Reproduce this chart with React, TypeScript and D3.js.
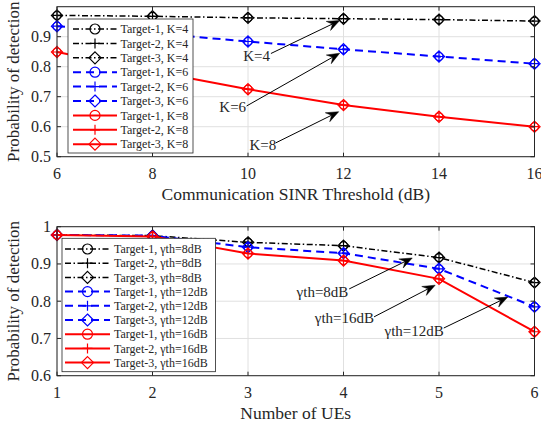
import React from "react";
import * as d3 from "d3";

// ---------- Data ----------
const sinrThresholds = [6, 8, 10, 12, 14, 16];
const pdK4 = [0.971, 0.968, 0.963, 0.96, 0.957, 0.952];
const pdK6 = [0.935, 0.912, 0.884, 0.858, 0.834, 0.81];
const pdK8 = [0.849, 0.785, 0.725, 0.672, 0.633, 0.6];

const numUEs = [1, 2, 3, 4, 5, 6];
const pdG8 = [0.978, 0.976, 0.958, 0.949, 0.917, 0.85];
const pdG12 = [0.978, 0.976, 0.945, 0.929, 0.887, 0.785];
const pdG16 = [0.978, 0.974, 0.928, 0.909, 0.86, 0.718];

const topYTicks = [0.5, 0.6, 0.7, 0.8, 0.9];
const botYTicks = [0.6, 0.7, 0.8, 0.9, 1];

const topLegend = [
  "Target-1, K=4", "Target-2, K=4", "Target-3, K=4",
  "Target-1, K=6", "Target-2, K=6", "Target-3, K=6",
  "Target-1, K=8", "Target-2, K=8", "Target-3, K=8",
];
const botLegend = [
  "Target-1, γth=8dB", "Target-2, γth=8dB", "Target-3, γth=8dB",
  "Target-1, γth=12dB", "Target-2, γth=12dB", "Target-3, γth=12dB",
  "Target-1, γth=16dB", "Target-2, γth=16dB", "Target-3, γth=16dB",
];

// annotations: label, text pos (data), arrow start (data), arrow end (data)
const topNotes = [
  { label: "K=4", tx: 10.18, ty: 0.835, x1: 10.48, y1: 0.844, x2: 11.92, y2: 0.954 },
  { label: "K=6", tx: 9.68, ty: 0.665, x1: 9.97, y1: 0.669, x2: 11.92, y2: 0.845 },
  { label: "K=8", tx: 10.31, ty: 0.539, x1: 10.58, y1: 0.546, x2: 11.9, y2: 0.65 },
];
const botNotes = [
  { label: "γth=8dB", tx: 3.78, ty: 0.8255, x1: 4.06, y1: 0.833, x2: 4.72, y2: 0.916 },
  { label: "γth=16dB", tx: 4.01, ty: 0.755, x1: 4.32, y1: 0.758, x2: 4.96, y2: 0.843 },
  { label: "γth=12dB", tx: 4.74, ty: 0.72, x1: 5.05, y1: 0.728, x2: 5.72, y2: 0.811 },
];

// ---------- Styles ----------
const FONT = "'Liberation Serif', 'Times New Roman', 'DejaVu Serif', serif";
const TXT = "#262626";
const GRID = "#e0e0e0";
const seriesStyles = [
  { color: "#000000", dash: "6,2.5,1.5,2.5", width: 1.5 },
  { color: "#0000ff", dash: "8,5", width: 2 },
  { color: "#ff0000", dash: null as string | null, width: 2 },
];

function Marker({ x, y, color }: { x: number; y: number; color: string }) {
  const r = 4;
  const p = 4.6;
  const dd = 5.6;
  return (
    <g stroke={color} strokeWidth={1.2} fill="none">
      <circle cx={x} cy={y} r={r} />
      <path d={`M${x - p},${y}H${x + p}M${x},${y - p}V${y + p}`} />
      <path d={`M${x},${y - dd}L${x + dd},${y}L${x},${y + dd}L${x - dd},${y}Z`} />
    </g>
  );
}

function LegendMarker({ x, y, color, kind }: { x: number; y: number; color: string; kind: number }) {
  if (kind === 0) return <circle cx={x} cy={y} r={5} stroke={color} strokeWidth={1.2} fill="none" />;
  if (kind === 1)
    return <path d={`M${x - 5},${y}H${x + 5}M${x},${y - 5}V${y + 5}`} stroke={color} strokeWidth={1.2} />;
  return (
    <path
      d={`M${x},${y - 6}L${x + 6},${y}L${x},${y + 6}L${x - 6},${y}Z`}
      stroke={color}
      strokeWidth={1.2}
      fill="none"
    />
  );
}

function Arrow({ x1, y1, x2, y2 }: { x1: number; y1: number; x2: number; y2: number }) {
  const ang = Math.atan2(y2 - y1, x2 - x1);
  const L = 12.5;
  const W = 5;
  const N = 8;
  const ux = Math.cos(ang), uy = Math.sin(ang);
  const px = -uy, py = ux;
  const bx = x2 - ux * L, by = y2 - uy * L;
  const nx = x2 - ux * N, ny = y2 - uy * N;
  const head = `M${x2},${y2}L${bx + px * W},${by + py * W}L${nx},${ny}L${bx - px * W},${by - py * W}Z`;
  return (
    <g>
      <line x1={x1} y1={y1} x2={nx} y2={ny} stroke="#000" strokeWidth={1} />
      <path d={head} fill="#000" stroke="#000" strokeWidth={0.5} />
    </g>
  );
}

type PanelProps = {
  xs: number[];
  series: number[][];
  xDomain: [number, number];
  yDomain: [number, number];
  yTicks: number[];
  yTickFmt: (v: number) => string;
  xLabel: string;
  top: number;
  bottom: number;
  legend: string[];
  legendBox: { x: number; y: number; w: number; h: number; lx1: number; lx2: number; tx: number; y0: number; dy: number };
  notes: { label: string; tx: number; ty: number; x1: number; y1: number; x2: number; y2: number }[];
};

function Panel(props: PanelProps) {
  const left = 57;
  const right = 534.5;
  const { xs, series, xDomain, yDomain, yTicks, top, bottom, legend, legendBox, notes } = props;
  const x = d3.scaleLinear().domain(xDomain).range([left, right]);
  const y = d3.scaleLinear().domain(yDomain).range([bottom, top]);
  const line = d3
    .line<number>()
    .x((_, i) => x(xs[i]))
    .y((d) => y(d));
  const allYGrid = d3.range(yDomain[0], yDomain[1] + 1e-9, 0.1);
  const tl = 4;
  return (
    <g style={{ fontFamily: FONT }}>
      <rect x={left} y={top} width={right - left} height={bottom - top} fill="#fff" />
      {xs.map((v) => (
        <line key={"gx" + v} x1={x(v)} x2={x(v)} y1={top} y2={bottom} stroke={GRID} strokeWidth={1} />
      ))}
      {allYGrid.map((v) => (
        <line key={"gy" + v} x1={left} x2={right} y1={y(v)} y2={y(v)} stroke={GRID} strokeWidth={1} />
      ))}
      {series.map((s, si) => {
        const st = seriesStyles[si];
        return (
          <g key={"s" + si}>
            <path
              d={line(s) || ""}
              fill="none"
              stroke={st.color}
              strokeWidth={st.width}
              strokeDasharray={st.dash || undefined}
            />
            {s.map((v, i) => (
              <Marker key={i} x={x(xs[i])} y={y(v)} color={st.color} />
            ))}
          </g>
        );
      })}
      <rect x={left} y={top} width={right - left} height={bottom - top} fill="none" stroke={TXT} strokeWidth={1} />
      {xs.map((v) => (
        <g key={"tx" + v}>
          <line x1={x(v)} x2={x(v)} y1={bottom} y2={bottom - tl} stroke={TXT} />
          <line x1={x(v)} x2={x(v)} y1={top} y2={top + tl} stroke={TXT} />
          <text x={x(v)} y={bottom + 22} textAnchor="middle" fontSize={16} fill={TXT}>
            {v}
          </text>
        </g>
      ))}
      {yTicks.map((v) => (
        <g key={"ty" + v}>
          <line x1={left} x2={left + tl} y1={y(v)} y2={y(v)} stroke={TXT} />
          <line x1={right} x2={right - tl} y1={y(v)} y2={y(v)} stroke={TXT} />
          <text x={left - 6} y={y(v) + 5.5} textAnchor="end" fontSize={16} fill={TXT}>
            {props.yTickFmt(v)}
          </text>
        </g>
      ))}
      <text x={(left + right) / 2} y={bottom + 43} textAnchor="middle" fontSize={17.5} fill={TXT}>
        {props.xLabel}
      </text>
      <text
        transform={`translate(19,${(top + bottom) / 2}) rotate(-90)`}
        textAnchor="middle"
        fontSize={17}
        fill={TXT}
      >
        Probability of detection
      </text>
      {notes.map((n) => (
        <g key={n.label}>
          <Arrow x1={x(n.x1)} y1={y(n.y1)} x2={x(n.x2)} y2={y(n.y2)} />
          <text x={x(n.tx)} y={y(n.ty) + 5} textAnchor="middle" fontSize={15} fill={TXT}>
            {n.label}
          </text>
        </g>
      ))}
      <rect
        x={legendBox.x}
        y={legendBox.y}
        width={legendBox.w}
        height={legendBox.h}
        fill="#fff"
        stroke={TXT}
        strokeWidth={0.8}
      />
      {legend.map((lab, i) => {
        const st = seriesStyles[Math.floor(i / 3)];
        const ly = legendBox.y0 + i * legendBox.dy;
        return (
          <g key={lab}>
            <line
              x1={legendBox.lx1}
              x2={legendBox.lx2}
              y1={ly}
              y2={ly}
              stroke={st.color}
              strokeWidth={st.width}
              strokeDasharray={st.dash || undefined}
            />
            <LegendMarker x={(legendBox.lx1 + legendBox.lx2) / 2} y={ly} color={st.color} kind={i % 3} />
            <text x={legendBox.tx} y={ly + 4.2} fontSize={12} fill={TXT}>
              {lab}
            </text>
          </g>
        );
      })}
    </g>
  );
}

export default function App() {
  return (
    <svg
      width={541}
      height={429}
      viewBox="0 0 541 429"
      style={{ position: "absolute", left: 0, top: 0, background: "#fff" }}
    >
      <rect x={0} y={0} width={541} height={429} fill="#fff" />
      <Panel
        xs={sinrThresholds}
        series={[pdK4, pdK6, pdK8]}
        xDomain={[6, 16]}
        yDomain={[0.5, 1]}
        yTicks={topYTicks}
        yTickFmt={(v) => d3.format(".1f")(v)}
        xLabel="Communication SINR Threshold (dB)"
        top={6.7}
        bottom={156.7}
        legend={topLegend}
        legendBox={{ x: 68, y: 19, w: 125, h: 134, lx1: 73, lx2: 117, tx: 120.5, y0: 29, dy: 14.4 }}
        notes={topNotes}
      />
      <Panel
        xs={numUEs}
        series={[pdG8, pdG12, pdG16]}
        xDomain={[1, 6]}
        yDomain={[0.6, 1]}
        yTicks={botYTicks}
        yTickFmt={(v) => (v === 1 ? "1" : d3.format(".1f")(v))}
        xLabel="Number of UEs"
        top={226.7}
        bottom={375.7}
        legend={botLegend}
        legendBox={{ x: 62, y: 238.3, w: 153.5, h: 133.4, lx1: 65, lx2: 110, tx: 114, y0: 249, dy: 14.2 }}
        notes={botNotes}
      />
    </svg>
  );
}
